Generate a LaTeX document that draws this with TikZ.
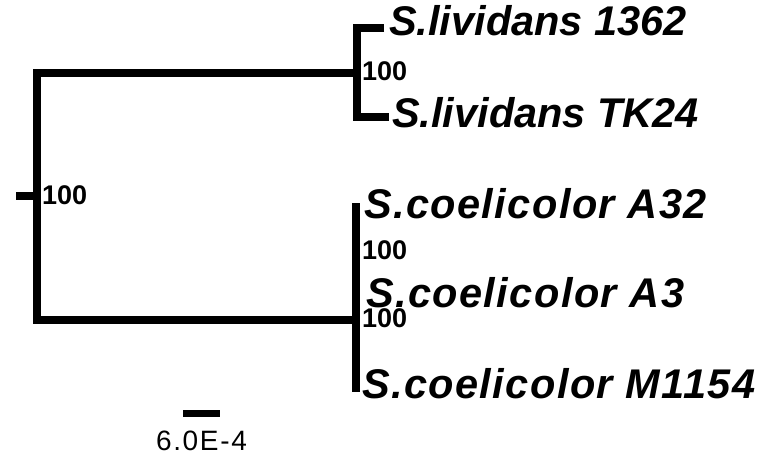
\documentclass[tikz,border=0pt]{standalone}
\usepackage{fontspec}
\setmainfont{Liberation Sans}
\usetikzlibrary{positioning}
\tikzset{
    branch/.style={line width=8.5pt, line cap=butt, line join=miter},
    taxon/.style={anchor=base west, inner sep=0pt, font=\fontsize{41.5}{41.5}\selectfont\bfseries\itshape},
    widetaxon/.style={taxon, font=\fontsize{41.5}{41.5}\selectfont\bfseries\itshape\addfontfeature{LetterSpace=3.4}},
    boot/.style={anchor=base west, inner sep=0pt, font=\fontsize{27}{27}\selectfont\bfseries},
}

\begin{document}
\begin{tikzpicture}[x=1pt,y=-1pt]
	\useasboundingbox (0,0) rectangle (761,459);
	% internal nodes of the tree
	\coordinate (root) at (16,196);
	\coordinate (n0) at (37,196);
	\coordinate (liv) at (357,73);
	\coordinate (coe) at (356,320);
	\coordinate (coe2) at (357,249);
	% leaves
	\coordinate (l1) at (384,28);
	\coordinate (l2) at (389,117);
	\coordinate (c1) at (356,203);
	\coordinate (c3) at (356,392);
	% branches
	\draw[branch] (root) -- (n0);
	\draw[branch] (liv) -- (n0 |- liv) -- (n0 |- coe) -- (coe);
	\draw[branch] (l1) -- (liv |- l1) -- (liv |- l2) -- (l2);
	\draw[branch] (c1) -- (c3);
	\draw[branch, line width=6pt] (coe2 |- c1) -- (coe2 |- 0,292);
	% taxa
	\node[taxon] (t1) at (389,35) {S.lividans 1362};
	\node[taxon] (t2) at (392,127) {S.lividans TK24};
	\node[widetaxon] (t3) at (364,218) {S.coelicolor A32};
	\node[widetaxon] (t4) at (366,307) {S.coelicolor A3};
	\node[widetaxon] (t5) at (362,398) {S.coelicolor M1154};
	% bootstrap values
	\node[boot] (b0) at (42,204) {100};
	\node[boot] (b1) at (362,80) {100};
	\node[boot] (b2) at (362,259) {100};
	\node[boot] (b3) at (362,327) {100};
	% scale
	\coordinate (s1) at (183,413.5);
	\coordinate (s2) at (220,413.5);
	\draw[line width=7pt] (s1) -- (s2);
	\node[anchor=base, inner sep=0pt, font=\fontsize{28}{28}\selectfont\addfontfeature{LetterSpace=6}] (sc) at (201.5,450) {6.0E-4};
\end{tikzpicture}
\end{document}
